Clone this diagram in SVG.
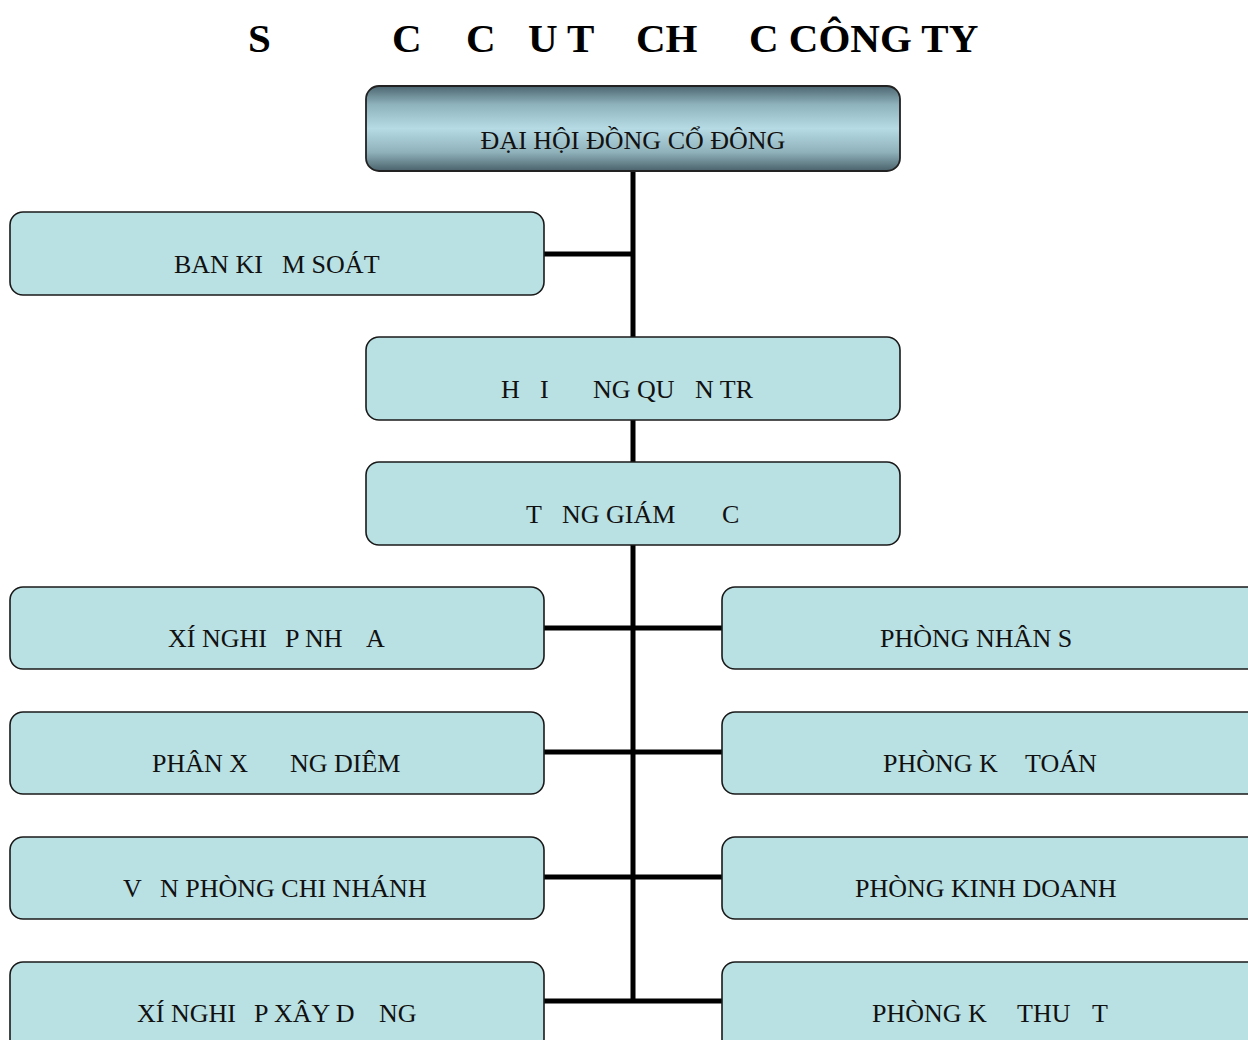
<svg xmlns="http://www.w3.org/2000/svg" width="1248" height="1040" viewBox="0 0 1248 1040">
<style>
.box{fill:#b9e0e3;stroke:#1a1a1a;stroke-width:1.6}
.lbl{font-family:"Liberation Serif","Times New Roman",serif;font-size:26px;fill:#111}
.title{font-family:"Liberation Serif","Times New Roman",serif;font-size:41px;font-weight:bold;fill:#000}
.conn{stroke:#000;stroke-width:5;fill:none}
</style>
<defs>
<linearGradient id="topg" x1="0" y1="0" x2="0" y2="1">
<stop offset="0" stop-color="#4c6670"/>
<stop offset="0.22" stop-color="#8fb3bd"/>
<stop offset="0.5" stop-color="#b6dbe5"/>
<stop offset="0.78" stop-color="#8fb1ba"/>
<stop offset="1" stop-color="#4a626b"/>
</linearGradient>
</defs>
<rect width="1248" height="1040" fill="#fff"/>
<text class="title" y="52"><tspan x="248">S</tspan><tspan x="392">C</tspan><tspan x="466">C</tspan><tspan x="528">U T</tspan><tspan x="636">CH</tspan><tspan x="749">C CÔNG TY</tspan></text>
<g id="connectors">
<path class="conn" d="M633 171V337M544 254H633M633 420V462M633 545V1001M544 628H722M544 752H722M544 877H722M544 1001H722"/>
</g>
<g id="n-dhcd">
<rect x="366" y="86" width="534" height="85" rx="13" fill="url(#topg)" stroke="#222" stroke-width="1.8"/>
<text class="lbl" x="633" y="149" text-anchor="middle" font-size="25">ĐẠI HỘI ĐỒNG CỔ ĐÔNG</text>
</g>
<g id="n-bks">
<rect class="box" x="10" y="212" width="534" height="83" rx="13"/>
<text class="lbl" y="273"><tspan x="174">BAN KI</tspan><tspan x="282">M SOÁT</tspan></text>
</g>
<g id="n-hdqt">
<rect class="box" x="366" y="337" width="534" height="83" rx="13"/>
<text class="lbl" y="398"><tspan x="501">H</tspan><tspan x="540">I</tspan><tspan x="593">NG QU</tspan><tspan x="695">N TR</tspan></text>
</g>
<g id="n-tgd">
<rect class="box" x="366" y="462" width="534" height="83" rx="13"/>
<text class="lbl" y="523"><tspan x="526">T</tspan><tspan x="562">NG GIÁM</tspan><tspan x="722">C</tspan></text>
</g>
<g id="n-xnnhua">
<rect class="box" x="10" y="587" width="534" height="82" rx="13"/>
<text class="lbl" y="647"><tspan x="168">XÍ NGHI</tspan><tspan x="285">P NH</tspan><tspan x="366">A</tspan></text>
</g>
<g id="n-pxdiem">
<rect class="box" x="10" y="712" width="534" height="82" rx="13"/>
<text class="lbl" y="772"><tspan x="152">PHÂN X</tspan><tspan x="290">NG DIÊM</tspan></text>
</g>
<g id="n-vpcn">
<rect class="box" x="10" y="837" width="534" height="82" rx="13"/>
<text class="lbl" y="897"><tspan x="123">V</tspan><tspan x="160">N PHÒNG CHI NHÁNH</tspan></text>
</g>
<g id="n-xnxd">
<rect class="box" x="10" y="962" width="534" height="90" rx="13"/>
<text class="lbl" y="1022"><tspan x="137">XÍ NGHI</tspan><tspan x="254">P XÂY D</tspan><tspan x="379">NG</tspan></text>
</g>
<g id="n-pns">
<rect class="box" x="722" y="587" width="540" height="82" rx="13"/>
<text class="lbl" x="880" y="647">PHÒNG NHÂN S</text>
</g>
<g id="n-pkt">
<rect class="box" x="722" y="712" width="540" height="82" rx="13"/>
<text class="lbl" y="772"><tspan x="883">PHÒNG K</tspan><tspan x="1025">TOÁN</tspan></text>
</g>
<g id="n-pkd">
<rect class="box" x="722" y="837" width="540" height="82" rx="13"/>
<text class="lbl" x="855" y="897">PHÒNG KINH DOANH</text>
</g>
<g id="n-pkthuat">
<rect class="box" x="722" y="962" width="540" height="90" rx="13"/>
<text class="lbl" y="1022"><tspan x="872">PHÒNG K</tspan><tspan x="1017">THU</tspan><tspan x="1092">T</tspan></text>
</g>
</svg>
